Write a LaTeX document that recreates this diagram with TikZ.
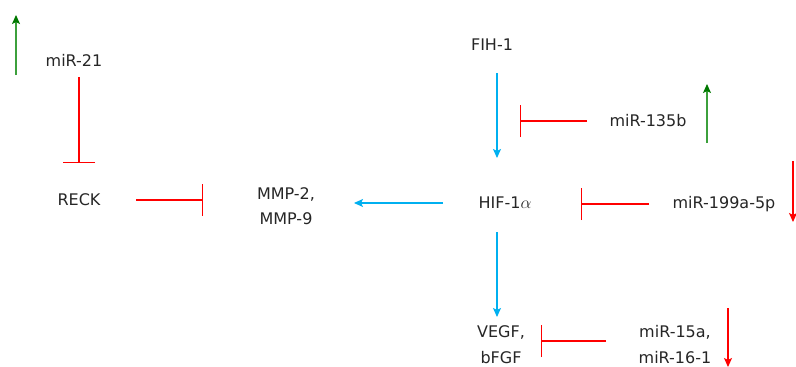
\documentclass[tikz,border=0pt]{standalone}
\usepackage{fontspec}
\setmainfont{DejaVu Sans}
\usetikzlibrary{arrows.meta}

\definecolor{actblue}{RGB}{0,176,240}
\definecolor{inhred}{RGB}{255,0,0}
\definecolor{upgreen}{RGB}{60,160,60}
\definecolor{upgreenhead}{RGB}{0,120,0}
\definecolor{txtgray}{RGB}{38,38,38}

\tikzset{
  gene/.style={inner sep=0pt, align=center, text=txtgray, font=\fontsize{16}{22}\selectfont},
  act/.style={draw=actblue, line width=1.1pt, -{Stealth[length=9pt,width=8pt,inset=2pt]}},
  inh/.style={draw=inhred, line width=1.1pt, -{Bar[width=32pt]}},
  upreg/.style={draw=upgreen, line width=1.1pt, -{Stealth[length=9pt,width=8pt,inset=2pt,color=upgreenhead]}},
  downreg/.style={draw=red, line width=1.1pt, -{Stealth[length=9pt,width=8pt,inset=2pt]}}
}

\begin{document}
\begin{tikzpicture}[x=1pt,y=-1pt]
  \useasboundingbox (0,0) rectangle (796,367);

  % genes and miRNAs
  \node[gene] (mir21) at (74,60) {miR-21};
  \node[gene] (reck) at (79,200) {RECK};
  \node[gene] (mmp) at (286,206) {MMP-2,\\[3pt]MMP-9};
  \node[gene] (fih) at (492,45) {FIH-1};
  \node[gene] (hif) at (505,203) {HIF-1$\alpha$};
  \node[gene] (vegf) at (501,345) {VEGF,\\[4pt]bFGF};
  \node[gene] (mir15) at (675,345) {miR-15a,\\[4pt]miR-16-1};
  \node[gene] (mir135) at (648,121) {miR-135b};
  \node[gene] (mir199) at (724,204) {miR-199a-5p};
  \coordinate (axis) at (497,0);
  \coordinate (mir15in) at ([yshift=4pt]mir15.center);

  % activation
  \draw[act, shorten <=28pt, shorten >=45pt] (fih.center -| axis) -- (hif.center -| axis);
  \draw[act, shorten <=62pt, shorten >=68pt] (hif.center) -- (mmp.center |- hif.center);
  \draw[act, shorten <=29pt, shorten >=28pt] (hif.center -| axis) -- (vegf.center -| axis);

  % inhibition
  \draw[inh, shorten <=17pt, shorten >=37pt] (reck.center |- mir21.center) -- (reck.center);
  \draw[inh, shorten <=57pt, shorten >=83pt] (reck.center) -- (mmp.center |- reck.center);
  \draw[inh, shorten <=61pt, shorten >=23pt] (mir135.center) -- (mir135.center -| axis);
  \draw[inh, shorten <=75pt, shorten >=76pt] (mir199.center) -- (mir199.center -| hif.center);
  \draw[inh, shorten <=69pt, shorten >=40pt] (mir15in) -- (mir15in -| vegf.center);

  % up / down regulation
  \coordinate (up21a) at (16,75);
  \coordinate (up21b) at (16,15);
  \coordinate (up135a) at (707,143);
  \coordinate (up135b) at (707,84);
  \coordinate (dn199a) at (793,161);
  \coordinate (dn199b) at (793,222);
  \coordinate (dn15a) at (728,308);
  \coordinate (dn15b) at (728,367);
  \draw[upreg] (up21a) -- (up21b);
  \draw[upreg] (up135a) -- (up135b);
  \draw[downreg] (dn199a) -- (dn199b);
  \draw[downreg] (dn15a) -- (dn15b);
\end{tikzpicture}
\end{document}
